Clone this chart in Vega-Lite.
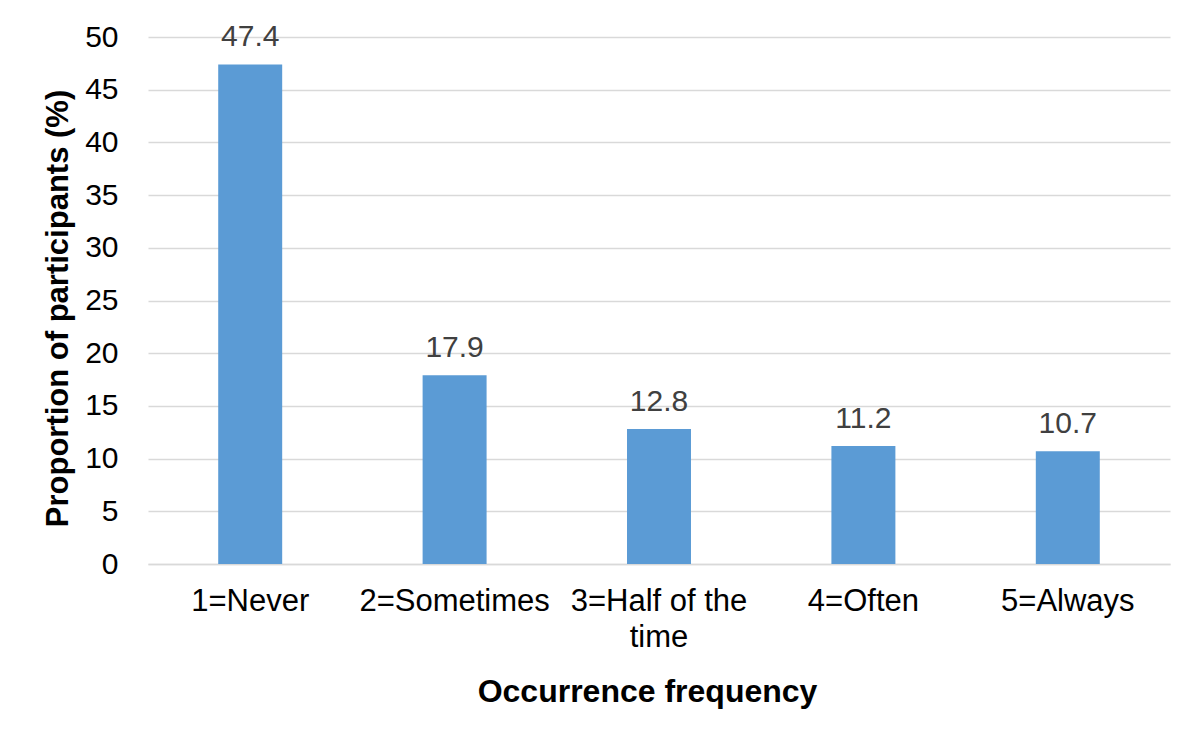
{
  "$schema": "https://vega.github.io/schema/vega-lite/v6.json",
  "width": 1022,
  "height": 527,
  "autosize": {"type": "none"},
  "padding": {"left": 148, "top": 37, "right": 24, "bottom": 167},
  "background": "white",
  "config": {
    "font": "Liberation Sans",
    "view": {"stroke": null},
    "axis": {"labelFont": "Liberation Sans", "titleFont": "Liberation Sans"}
  },
  "data": {
    "values": [
      {"category": "1=Never", "value": 47.4},
      {"category": "2=Sometimes", "value": 17.9},
      {"category": "3=Half of the time", "value": 12.8},
      {"category": "4=Often", "value": 11.2},
      {"category": "5=Always", "value": 10.7}
    ]
  },
  "encoding": {
    "x": {
      "field": "category",
      "type": "nominal",
      "sort": null,
      "scale": {"paddingInner": 0.687, "paddingOuter": 0.3435},
      "axis": {
        "title": "Occurrence frequency",
        "titleFontSize": 32,
        "titleFontWeight": "bold",
        "titleColor": "#000000",
        "titlePadding": 24,
        "titleX": 499,
        "labelAngle": 0,
        "labelFontSize": 31,
        "labelColor": "#000000",
        "labelPadding": 22,
        "labelLineHeight": 36,
        "labelLimit": 300,
        "labelExpr": "datum.label == '3=Half of the time' ? ['3=Half of the', 'time'] : datum.label",
        "ticks": false,
        "domainColor": "#D9D9D9",
        "domainWidth": 1.5
      }
    },
    "y": {
      "field": "value",
      "type": "quantitative",
      "scale": {"domain": [0, 50], "nice": false},
      "axis": {
        "title": "Proportion of participants (%)",
        "titleFontSize": 31,
        "titleFontWeight": "bold",
        "titleColor": "#000000",
        "titlePadding": 10,
        "titleY": 271,
        "values": [0, 5, 10, 15, 20, 25, 30, 35, 40, 45, 50],
        "labelFontSize": 30,
        "labelColor": "#000000",
        "labelPadding": 30,
        "ticks": false,
        "domain": false,
        "grid": true,
        "gridColor": "#D9D9D9",
        "gridWidth": 1.5
      }
    }
  },
  "layer": [
    {"mark": {"type": "bar", "color": "#5B9BD5"}},
    {
      "mark": {"type": "text", "baseline": "bottom", "dy": -12, "fontSize": 30, "color": "#404040"},
      "encoding": {"text": {"field": "value", "type": "quantitative", "format": ".1f"}}
    }
  ]
}
